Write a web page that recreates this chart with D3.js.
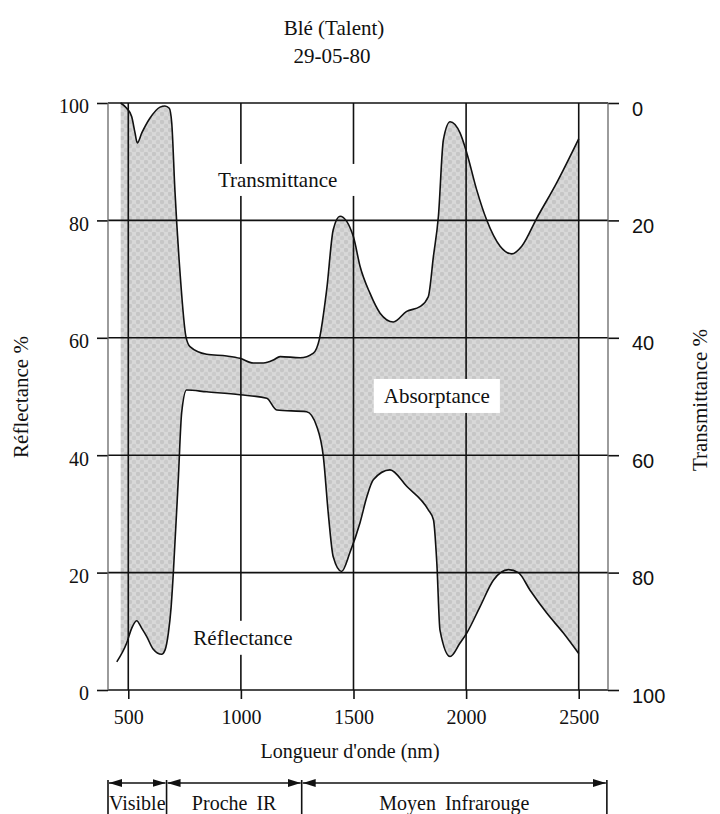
<!DOCTYPE html>
<html>
<head>
<meta charset="utf-8">
<script src="https://cdn.jsdelivr.net/npm/d3@7"></script>
<style>
body { margin: 0; background: #fff; }
svg { display: block; }
</style>
</head>
<body>
<div id="app"></div>
<script>
// transmittance curve (right axis, 0 at top)
const transWl  = [466, 493, 515, 530, 540, 560, 596, 641, 663, 682, 693, 707, 730, 756, 774, 848, 937, 996, 1055, 1100, 1144, 1174, 1263, 1322, 1348, 1381, 1410, 1440, 1499, 1529, 1573, 1618, 1677, 1736, 1795, 1832, 1855, 1877, 1899, 1929, 1973, 2003, 2047, 2091, 2151, 2203, 2247, 2314, 2402, 2500]
const transVal = [0, 0.9, 2.3, 5.1, 6.8, 5.1, 2.6, 0.7, 0.5, 0.9, 3.4, 14.8, 29, 39.8, 41.5, 42.8, 43.1, 43.5, 44.3, 44.3, 43.8, 43.2, 43.4, 42.6, 40.3, 31.8, 21.6, 19.3, 22.7, 27.8, 32.4, 35.8, 37.3, 35.5, 34.7, 33.0, 26.1, 19.3, 6.3, 3.2, 5.1, 8.5, 14.8, 19.9, 24.4, 25.7, 24.4, 19.6, 13.6, 6.1]

// reflectance curve (left axis)
const reflWl  = [449, 493, 515, 537, 560, 582, 610, 648, 663, 678, 690, 700, 722, 737, 759, 848, 996, 1115, 1159, 1292, 1337, 1366, 1388, 1410, 1447, 1485, 1529, 1560, 1588, 1662, 1736, 1832, 1855, 1870, 1884, 1929, 1973, 2003, 2062, 2121, 2188, 2232, 2284, 2358, 2432, 2500]
const reflVal = [4.8, 8, 10.5, 11.8, 10.5, 9.1, 7, 6.1, 6.8, 9.7, 14, 19.9, 35.8, 47.2, 51.1, 50.8, 50.3, 49.7, 47.7, 47.4, 44.9, 39.8, 30.1, 22.7, 20.2, 23.5, 28.5, 33, 35.8, 37.5, 34.7, 30.7, 29.0, 21.6, 10.2, 5.7, 8, 9.7, 14.2, 18.7, 20.5, 20.0, 17.0, 13.1, 9.7, 6.2]

const xTicks = [500, 1000, 1500, 2000, 2500]
const yTicks = [0, 20, 40, 60, 80, 100]

const bandEdges = [410, 670, 1270, 2625]
const bandNames = ['Visible', 'Proche IR', 'Moyen Infrarouge']

const serif = "'Liberation Serif', 'Times New Roman', serif"
const sans = "'Liberation Sans', Arial, sans-serif"

const W = 720, H = 814

let svg = d3.select('#app').append('svg')
  .attr('width', W)
  .attr('height', H)

svg.append('rect').attr('width', W).attr('height', H).attr('fill', '#fff')

let x = d3.scaleLinear().domain([410, 2630]).range([108, 608])
let y = d3.scaleLinear().domain([0, 100]).range([690, 103])
let yT = d3.scaleLinear().domain([0, 100]).range([103, 690])

const transData = transWl.map((w, i) => ({w, v: transVal[i]}))
const reflData = reflWl.map((w, i) => ({w, v: reflVal[i]}))

// halftone look for the absorptance band
let defs = svg.append('defs')
let pat = defs.append('pattern')
  .attr('id', 'halftone')
  .attr('width', 8)
  .attr('height', 8)
  .attr('patternUnits', 'userSpaceOnUse')
pat.append('rect').attr('width', 8).attr('height', 8).attr('fill', '#d8d8d8')
pat.append('circle').attr('cx', 2).attr('cy', 2).attr('r', 2.2).attr('fill', '#c6c6c6')
pat.append('circle').attr('cx', 6).attr('cy', 6).attr('r', 2.2).attr('fill', '#cbcbcb')

defs.append('marker')
  .attr('id', 'head')
  .attr('markerWidth', 13)
  .attr('markerHeight', 8)
  .attr('refX', 13)
  .attr('refY', 4)
  .attr('orient', 'auto-start-reverse')
  .attr('markerUnits', 'userSpaceOnUse')
  .append('path')
  .attr('d', 'M0,0 L13,4 L0,8 z')
  .attr('fill', '#111')

// shade = under transmittance curve minus under reflectance curve
let areaT = d3.area()
  .x(d => x(d.w))
  .y0(y(0))
  .y1(d => yT(d.v))
  .curve(d3.curveMonotoneX)

let areaR = d3.area()
  .x(d => x(d.w))
  .y0(y(0))
  .y1(d => y(d.v))
  .curve(d3.curveMonotoneX)

svg.append('path').attr('d', areaT(transData)).attr('fill', 'url(#halftone)')
svg.append('path').attr('d', areaR(reflData)).attr('fill', '#fff')

// grid
let gridG = svg.append('g').attr('stroke', '#111').attr('stroke-width', 1.6)

gridG.selectAll('.vg')
  .data(xTicks)
  .enter()
  .append('line')
  .attr('x1', d => x(d))
  .attr('x2', d => x(d))
  .attr('y1', y(100))
  .attr('y2', y(0))

gridG.selectAll('.hg')
  .data(yTicks)
  .enter()
  .append('line')
  .attr('x1', x.range()[0])
  .attr('x2', x.range()[1])
  .attr('y1', d => y(d))
  .attr('y2', d => y(d))

// axes
let leftAxis = svg.append('g')
  .attr('transform', `translate(${x.range()[0]},0)`)
  .call(d3.axisLeft(y).tickValues(yTicks).tickSize(11).tickSizeOuter(0).tickPadding(8))

let rightAxis = svg.append('g')
  .attr('transform', `translate(${x.range()[1]},0)`)
  .call(d3.axisRight(yT).tickValues(yTicks).tickSize(11).tickSizeOuter(0).tickPadding(13))

let bottomAxis = svg.append('g')
  .attr('transform', `translate(0,${y(0)})`)
  .call(d3.axisBottom(x).tickValues(xTicks).tickFormat(d3.format('d')).tickSize(9).tickSizeOuter(0).tickPadding(11))

;[leftAxis, rightAxis, bottomAxis].forEach(g => {
  g.select('.domain').remove()
  g.selectAll('.tick line').attr('stroke', '#111').attr('stroke-width', 1.6)
  g.selectAll('.tick text').attr('fill', '#111').attr('font-size', 20)
})
leftAxis.selectAll('.tick text').attr('font-family', serif).attr('dy', '0.49em')
rightAxis.selectAll('.tick text').attr('font-family', sans).attr('dy', '0.6em')
bottomAxis.selectAll('.tick text').attr('font-family', serif)

// side frame lines
svg.selectAll('.frame')
  .data(x.range())
  .enter()
  .append('line')
  .attr('x1', d => d)
  .attr('x2', d => d)
  .attr('y1', y(100))
  .attr('y2', y(0))
  .attr('stroke', '#666')
  .attr('stroke-width', 1.3)

// curves
let lineT = d3.line().x(d => x(d.w)).y(d => yT(d.v)).curve(d3.curveMonotoneX)
let lineR = d3.line().x(d => x(d.w)).y(d => y(d.v)).curve(d3.curveMonotoneX)

svg.append('path').attr('d', lineT(transData)).attr('fill', 'none').attr('stroke', '#111').attr('stroke-width', 1.6)
svg.append('path').attr('d', lineR(reflData)).attr('fill', 'none').attr('stroke', '#111').attr('stroke-width', 1.6)

// in-plot labels with white boxes
function boxedLabel(txt, wl, val, padX, padY) {
  let g = svg.append('g')
  let t = g.append('text')
    .attr('x', x(wl))
    .attr('y', y(val))
    .attr('text-anchor', 'middle')
    .attr('font-family', serif)
    .attr('font-size', 21)
    .attr('fill', '#111')
    .text(txt)
  let b = t.node().getBBox()
  g.insert('rect', 'text')
    .attr('x', b.x - padX)
    .attr('y', b.y - padY)
    .attr('width', b.width + padX * 2)
    .attr('height', b.height + padY * 2)
    .attr('fill', '#fff')
}
boxedLabel('Transmittance', 1163, 85.7, 18, 4)
boxedLabel('Absorptance', 1870, 48.9, 10, 5)
boxedLabel('Réflectance', 1009, 7.7, 10, 5)

// titles
svg.append('text')
  .attr('x', 334).attr('y', 35)
  .attr('text-anchor', 'middle')
  .attr('font-family', serif).attr('font-size', 21).attr('fill', '#111')
  .text('Blé (Talent)')

svg.append('text')
  .attr('x', 332).attr('y', 63)
  .attr('text-anchor', 'middle')
  .attr('font-family', serif).attr('font-size', 21).attr('fill', '#111')
  .text('29-05-80')

svg.append('text')
  .attr('x', 350).attr('y', 758)
  .attr('text-anchor', 'middle')
  .attr('font-family', serif).attr('font-size', 20).attr('fill', '#111')
  .text("Longueur d'onde (nm)")

svg.append('text')
  .attr('transform', 'translate(28,397) rotate(-90)')
  .attr('text-anchor', 'middle')
  .attr('font-family', serif).attr('font-size', 21).attr('fill', '#111')
  .text('Réflectance %')

svg.append('text')
  .attr('transform', 'translate(707,400) rotate(-90)')
  .attr('text-anchor', 'middle')
  .attr('font-family', serif).attr('font-size', 21).attr('fill', '#111')
  .text('Transmittance %')

// spectral domains below the axis
let bandY = 783
let bands = bandNames.map((name, i) => ({name, a: bandEdges[i], b: bandEdges[i + 1]}))

let bandG = svg.append('g')

bandG.selectAll('.bar')
  .data(bandEdges)
  .enter()
  .append('line')
  .attr('x1', d => x(d))
  .attr('x2', d => x(d))
  .attr('y1', bandY - 3)
  .attr('y2', H)
  .attr('stroke', '#111')
  .attr('stroke-width', 1.6)

bandG.selectAll('.arrow')
  .data(bands)
  .enter()
  .append('line')
  .attr('x1', d => x(d.a) + 1)
  .attr('x2', d => x(d.b) - 1)
  .attr('y1', bandY)
  .attr('y2', bandY)
  .attr('stroke', '#111')
  .attr('stroke-width', 1.6)
  .attr('marker-start', 'url(#head)')
  .attr('marker-end', 'url(#head)')

bandG.selectAll('text')
  .data(bands)
  .enter()
  .append('text')
  .attr('x', d => (x(d.a) + x(d.b)) / 2)
  .attr('y', 810)
  .attr('text-anchor', 'middle')
  .attr('font-family', serif)
  .attr('font-size', 20)
  .attr('fill', '#111')
  .attr('word-spacing', 4)
  .text(d => d.name)
</script>
</body>
</html>
